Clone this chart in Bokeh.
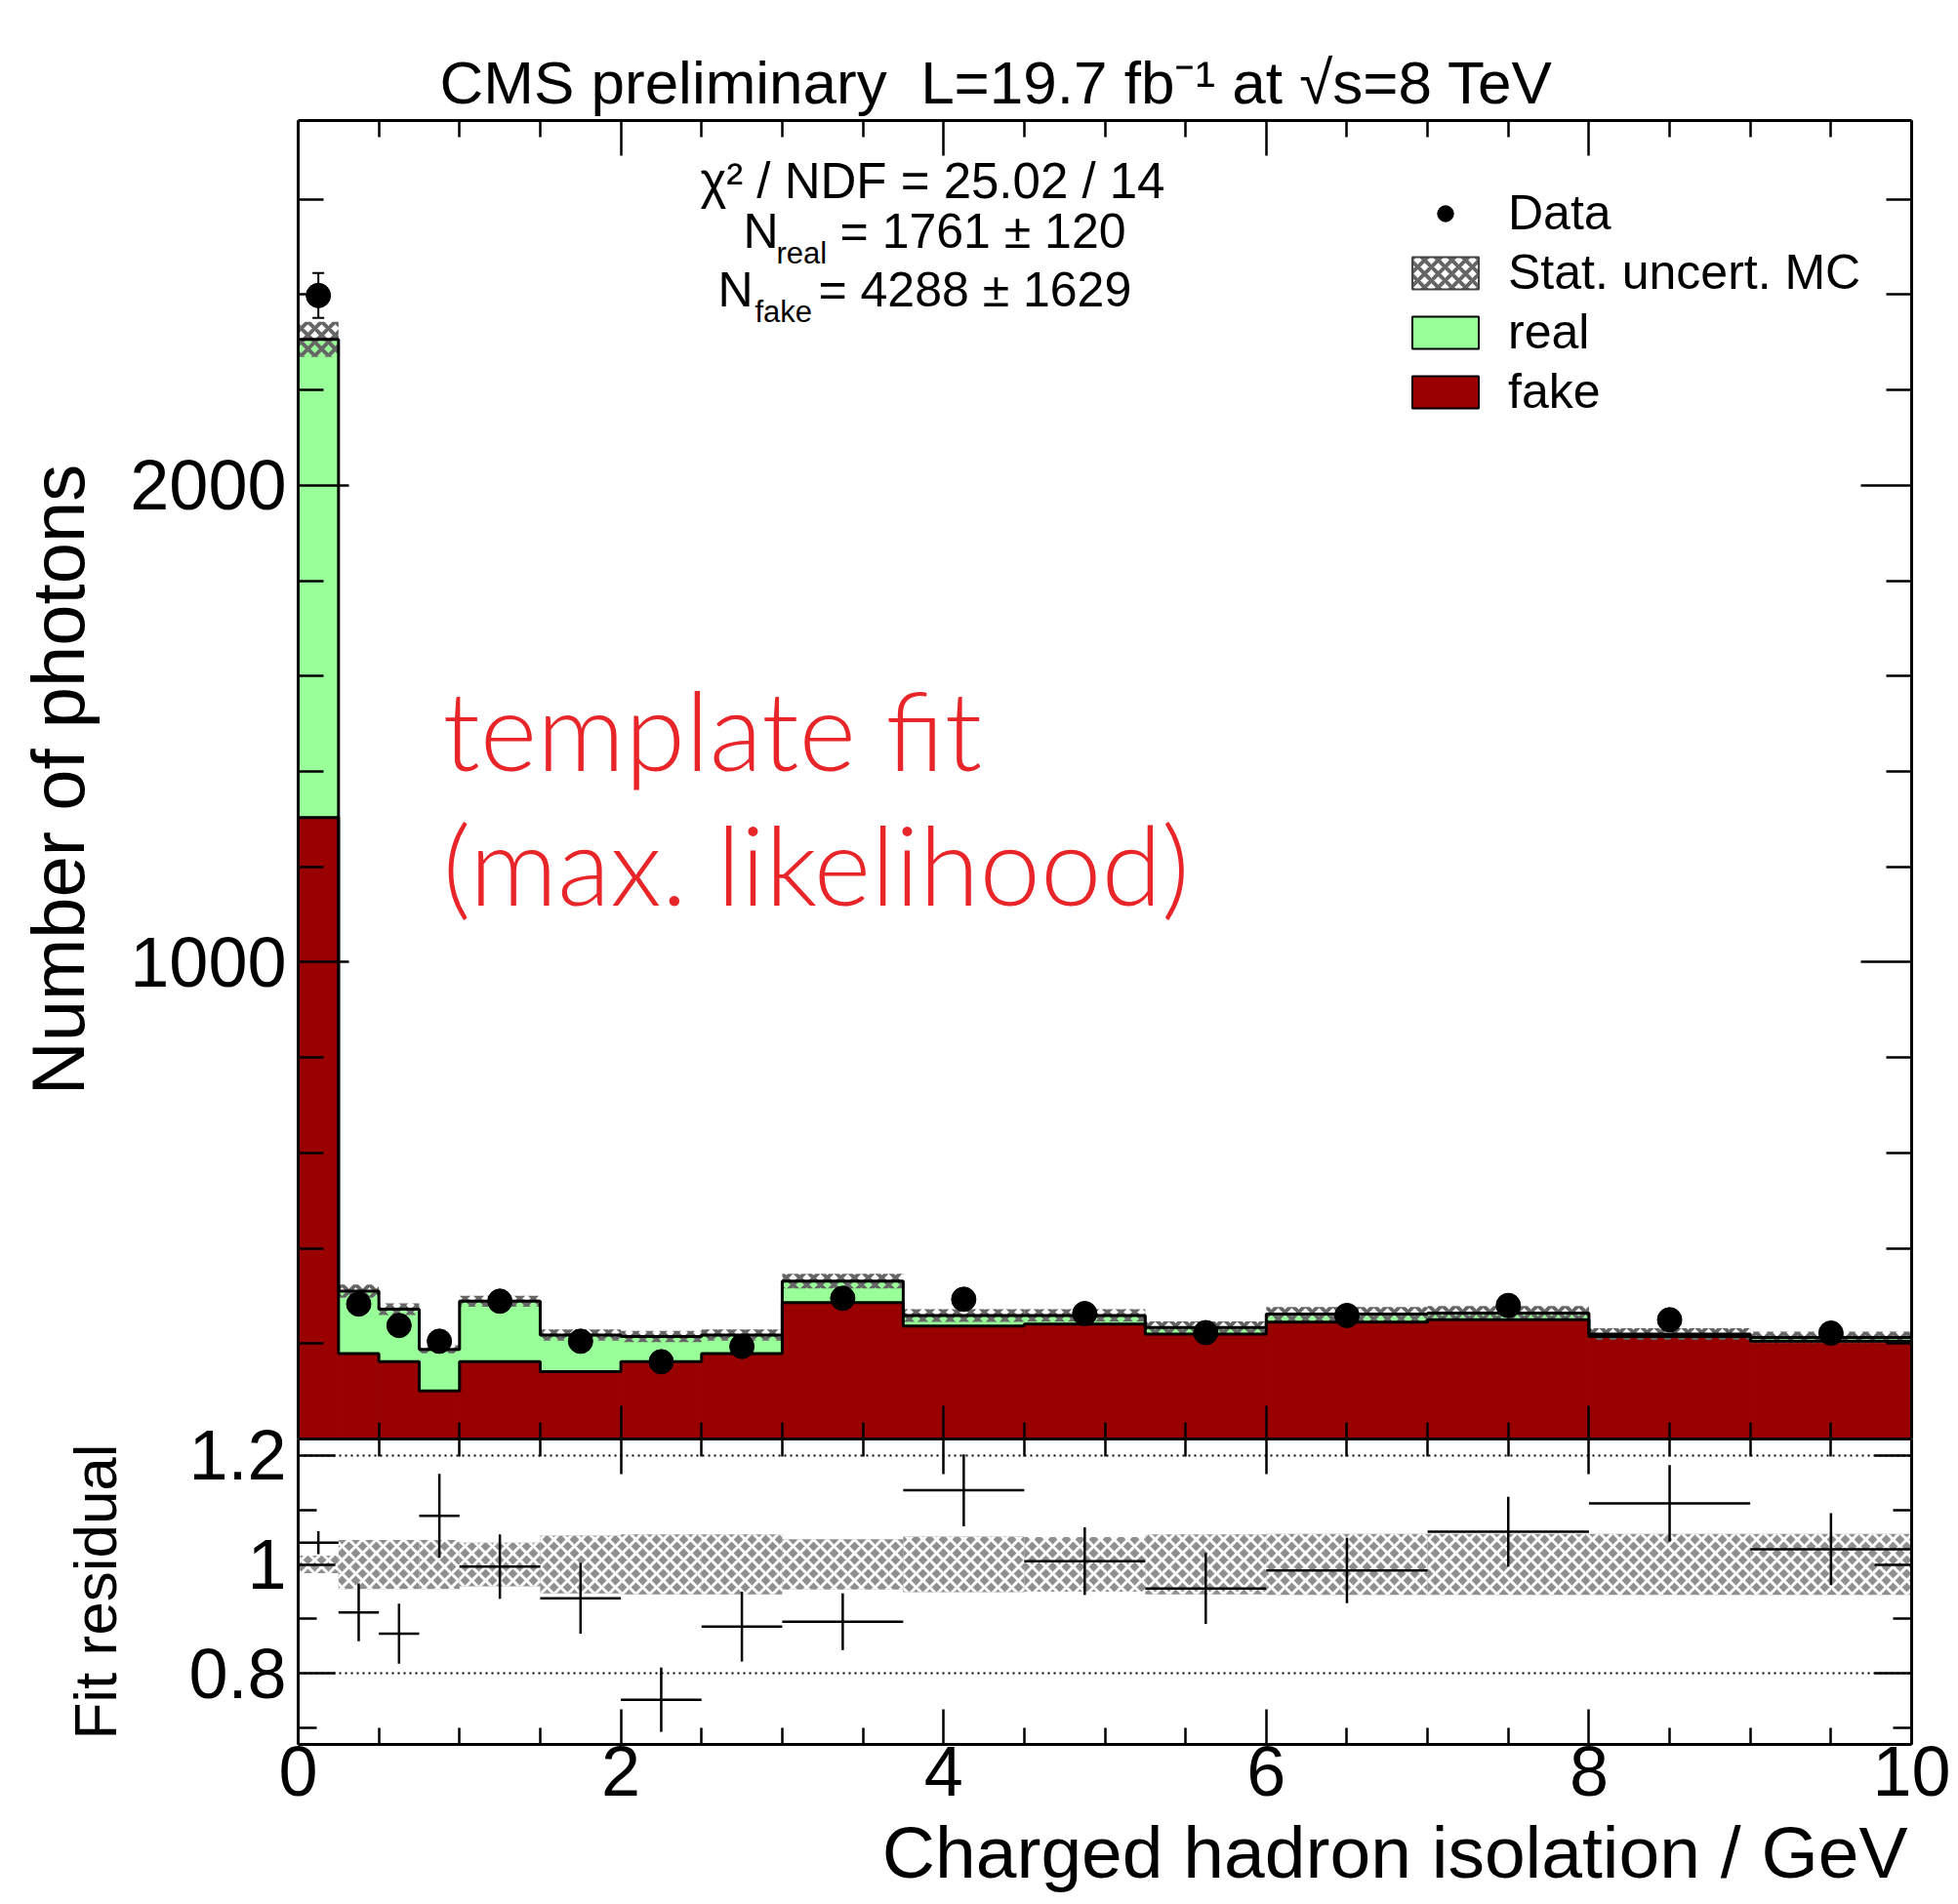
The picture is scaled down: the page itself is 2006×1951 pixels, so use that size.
from bokeh.plotting import figure
from bokeh.layouts import column
from bokeh.models import (Range1d, FixedTicker, LinearAxis, Legend, LegendItem,
                          Label, ColumnDataSource, Whisker, TeeHead, Title)
from bokeh.embed import file_html
from bokeh.resources import INLINE

# ---------------- data ----------------
bin_edges = [0, 0.25, 0.5, 0.75, 1.0, 1.5, 2.0, 2.5, 3.0, 3.75, 4.5, 5.25, 6.0, 7.0, 8.0, 9.0, 10.0]
fake_counts = [1303, 179, 162, 101, 162, 141, 162, 179, 286, 237, 241, 220, 245, 250, 215, 205]
real_counts = [1003, 131, 110, 87, 127, 77, 53, 39, 45, 22, 18, 14, 17, 14, 5, 8]
data_counts = [2398, 283, 238, 205, 289, 205, 162, 194, 295, 293, 263, 223, 259, 280, 250, 222]
data_errors = [47, 17, 15, 14, 17, 14, 13, 14, 17, 17, 16, 15, 16, 17, 16, 15]
mc_rel_unc = [0.016, 0.045, 0.045, 0.045, 0.040, 0.053, 0.055, 0.055, 0.046, 0.051,
              0.050, 0.055, 0.056, 0.056, 0.056, 0.056]
residual = [1.040, 0.912, 0.873, 1.089, 0.996, 0.938, 0.752, 0.886, 0.895, 1.136,
            1.006, 0.956, 0.989, 1.060, 1.112, 1.028]
residual_err = [0.021, 0.053, 0.055, 0.077, 0.059, 0.065, 0.059, 0.064, 0.052, 0.066,
                0.062, 0.065, 0.060, 0.064, 0.070, 0.066]

x_major_ticks = [0, 2, 4, 6, 8, 10]
x_minor_ticks = [0.5, 1, 1.5, 2.5, 3, 3.5, 4.5, 5, 5.5, 6.5, 7, 7.5, 8.5, 9, 9.5]
main_y_major = [1000, 2000]
main_y_minor = [200, 400, 600, 800, 1200, 1400, 1600, 1800, 2200, 2400, 2600]
ratio_y_major = [0.8, 1.0, 1.2]
ratio_y_minor = [0.7, 0.9, 1.1]
ratio_labels = {0.8: "0.8", 1.0: "1", 1.2: "1.2"}

title_text = "CMS preliminary \u00a0L=19.7 fb\u207b\u00b9 at \u221as=8 TeV"
FONT = "Liberation Sans"
GREEN = "#99ff99"
DARKRED = "#990000"
NAN = float("nan")
OVERLAP = 30  # ratio canvas starts this far above its frame (transparent strip)

lefts = bin_edges[:-1]
rights = bin_edges[1:]
centers = [(a + b) / 2 for a, b in zip(lefts, rights)]
totals = [f + r for f, r in zip(fake_counts, real_counts)]


def make_axis(ticks, minor, major_len, minor_len, labels=False):
    ax = LinearAxis(ticker=FixedTicker(ticks=ticks, minor_ticks=minor),
                    major_tick_in=major_len, major_tick_out=0,
                    minor_tick_in=minor_len, minor_tick_out=0,
                    axis_line_width=3, axis_line_color="black",
                    major_tick_line_width=2.5, minor_tick_line_width=2.5,
                    major_tick_line_color="black", minor_tick_line_color="black")
    if labels:
        ax.major_label_text_font = FONT
        ax.major_label_text_font_size = "72px"
        ax.major_label_text_color = "black"
        ax.major_label_standoff = 12
    else:
        ax.major_label_text_font_size = "0px"
        ax.major_label_text_color = None
        ax.major_label_standoff = 0
    return ax


# ---------------- main panel ----------------
p1 = figure(width=2006, height=1474, x_range=Range1d(0, 10), y_range=Range1d(0, 2765),
            output_backend="svg", toolbar_location=None,
            x_axis_location=None, y_axis_location=None,
            min_border_left=305, min_border_right=48, min_border_top=123, min_border_bottom=0)
p1.outline_line_color = None
p1.xgrid.visible = False
p1.ygrid.visible = False
p1.background_fill_color = "white"
p1.border_fill_color = "white"

p1.title = Title(text=title_text, align="left", offset=145, standoff=10,
                 text_font=FONT, text_font_size="62px", text_font_style="normal",
                 text_color="black")

p1.quad(left=lefts, right=rights, bottom=0, top=fake_counts,
        fill_color=DARKRED, line_color=DARKRED, line_width=1)
p1.quad(left=lefts, right=rights, bottom=fake_counts, top=totals,
        fill_color=GREEN, line_color=GREEN, line_width=1)
p1.quad(left=lefts, right=rights,
        bottom=[t * (1 - u) for t, u in zip(totals, mc_rel_unc)],
        top=[t * (1 + u) for t, u in zip(totals, mc_rel_unc)],
        fill_alpha=0, line_color=None, hatch_pattern="diagonal_cross",
        hatch_color="#666666", hatch_weight=4, hatch_scale=14)
p1.step(x=bin_edges, y=fake_counts + [fake_counts[-1]], mode="after",
        line_color="black", line_width=3)
p1.step(x=bin_edges, y=totals + [totals[-1]], mode="after",
        line_color="black", line_width=3)

dsrc = ColumnDataSource(dict(x=centers, y=data_counts,
                             lo=[d - e for d, e in zip(data_counts, data_errors)],
                             hi=[d + e for d, e in zip(data_counts, data_errors)]))
p1.add_layout(Whisker(source=dsrc, base="x", upper="hi", lower="lo", dimension="height",
                      line_width=2, line_color="black",
                      upper_head=TeeHead(size=12, line_width=2),
                      lower_head=TeeHead(size=12, line_width=2)))
r_data = p1.scatter(x="x", y="y", source=dsrc, size=25, marker="circle",
                    fill_color="black", line_color="black")

# legend proxies (one NaN entry each, so nothing is drawn in the frame)
r_leg_unc = p1.quad(left=[NAN], right=[NAN], top=[NAN], bottom=[NAN], fill_alpha=0,
                    line_color="#444444", line_width=2, hatch_pattern="diagonal_cross",
                    hatch_color="#666666", hatch_weight=4, hatch_scale=14)
r_leg_real = p1.quad(left=[NAN], right=[NAN], top=[NAN], bottom=[NAN], fill_color=GREEN,
                     line_color="black", line_width=2)
r_leg_fake = p1.quad(left=[NAN], right=[NAN], top=[NAN], bottom=[NAN], fill_color=DARKRED,
                     line_color="black", line_width=2)

legend = Legend(items=[LegendItem(label="Data", renderers=[r_data]),
                       LegendItem(label="Stat. uncert. MC", renderers=[r_leg_unc]),
                       LegendItem(label="real", renderers=[r_leg_real]),
                       LegendItem(label="fake", renderers=[r_leg_fake])],
                location=(1133, 1044), orientation="vertical",
                glyph_width=85, glyph_height=41, label_standoff=22,
                label_text_font=FONT, label_text_font_size="50px", label_text_color="black",
                spacing=3, padding=0, margin=0,
                border_line_color=None, background_fill_alpha=0)
p1.add_layout(legend)

p1.add_layout(make_axis(x_major_ticks, x_minor_ticks, 34, 17), "below")
p1.add_layout(make_axis(x_major_ticks, x_minor_ticks, 36, 17), "above")
ly = make_axis(main_y_major, main_y_minor, 52, 26, labels=True)
ly.axis_label = "Number of photons"
ly.axis_label_text_font = FONT
ly.axis_label_text_font_size = "76px"
ly.axis_label_text_font_style = "normal"
ly.axis_label_text_color = "black"
ly.axis_label_standoff = 28
p1.add_layout(ly, "left")
p1.add_layout(make_axis(main_y_major, main_y_minor, 52, 26), "right")


def add_text(x, y, text, size, font=FONT, color="black", align="left"):
    p1.add_layout(Label(x=x, y=y, text=text, text_font=font, text_font_size=size,
                        text_color=color, text_align=align, text_baseline="alphabetic"))


add_text(3.932, 2639, "\u03c7\u00b2 / NDF = 25.02 / 14", "51px", align="center")
add_text(2.759, 2532, "N", "50px")
add_text(2.964, 2487, "real", "31px")
add_text(3.358, 2532, "= 1761 \u00b1 120", "50px")
add_text(2.601, 2409, "N", "50px")
add_text(2.831, 2364, "fake", "31px")
add_text(3.224, 2409, "= 4288 \u00b1 1629", "50px")
add_text(0.895, 1490, "template fit", "112px", font="Lato Light", color="#e8262a")
add_text(0.895, 1208, "(max. likelihood)", "112px", font="Lato Light", color="#e8262a")

# ---------------- ratio panel ----------------
p2 = figure(width=2006, height=477 + OVERLAP, x_range=p1.x_range, y_range=Range1d(0.67, 1.23),
            output_backend="svg", toolbar_location=None,
            x_axis_location=None, y_axis_location=None,
            min_border_left=305, min_border_right=48, min_border_top=OVERLAP,
            min_border_bottom=164, margin=(-OVERLAP, 0, 0, 0))
p2.outline_line_color = None
p2.background_fill_color = "white"
p2.border_fill_color = None
p2.border_fill_alpha = 0

p2.quad(left=lefts, right=rights, bottom=[1 - u for u in mc_rel_unc],
        top=[1 + u for u in mc_rel_unc], fill_color="#8f8f8f", line_color=None,
        hatch_pattern="diagonal_cross", hatch_color="white",
        hatch_weight=3, hatch_scale=14)
p2.segment(x0=lefts, x1=rights, y0=residual, y1=residual, line_color="black", line_width=2.5)
p2.segment(x0=centers, x1=centers,
           y0=[r - e for r, e in zip(residual, residual_err)],
           y1=[r + e for r, e in zip(residual, residual_err)],
           line_color="black", line_width=2.5)

bx = make_axis(x_major_ticks, x_minor_ticks, 36, 17, labels=True)
bx.major_label_standoff = 2
p2.add_layout(bx, "below")
p2.add_layout(Title(text="Charged hadron isolation / GeV", align="right", offset=4,
                    standoff=22, text_font=FONT, text_font_size="75px",
                    text_font_style="normal", text_color="black"), "below")
p2.add_layout(make_axis(x_major_ticks, x_minor_ticks, 36, 18), "above")
lr = make_axis(ratio_y_major, ratio_y_minor, 38, 19, labels=True)
lr.major_label_overrides = ratio_labels
lr.axis_label = "Fit residual"
lr.axis_label_text_font = FONT
lr.axis_label_text_font_size = "62px"
lr.axis_label_text_font_style = "normal"
lr.axis_label_text_color = "black"
lr.axis_label_standoff = 58
p2.add_layout(lr, "left")
p2.add_layout(make_axis(ratio_y_major, ratio_y_minor, 38, 19), "right")

p2.xgrid.visible = False
p2.ygrid.ticker = FixedTicker(ticks=ratio_y_major)
p2.ygrid.grid_line_color = "black"
p2.ygrid.grid_line_width = 2
p2.ygrid.grid_line_dash = "2 4"

layout = column(p1, p2, spacing=0)
open("out.html", "w").write(file_html(layout, INLINE, title="template fit"))
